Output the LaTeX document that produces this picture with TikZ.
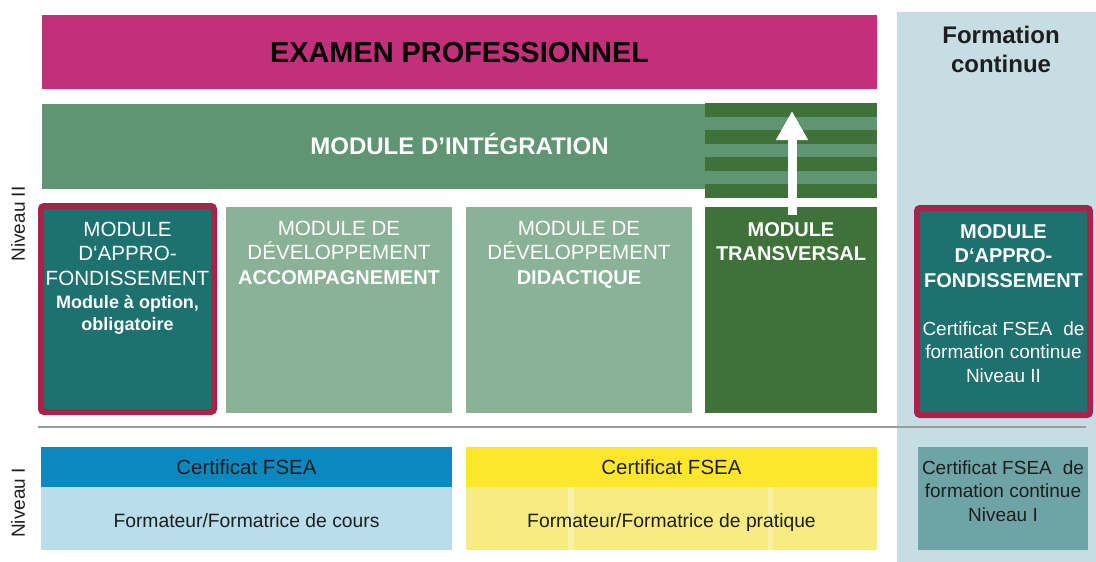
\documentclass[tikz,border=0pt]{standalone}
\usepackage{fontspec}
\setmainfont{Liberation Sans}
\usetikzlibrary{arrows.meta}
\definecolor{exampink}{HTML}{C32F7B}
\definecolor{bandgreen}{HTML}{5F9573}
\definecolor{lightmod}{HTML}{8AB296}
\definecolor{darkgreen}{HTML}{3F7239}
\definecolor{tealbox}{HTML}{1D716F}
\definecolor{crimson}{HTML}{A8234A}
\definecolor{panelblue}{HTML}{C6DDE3}
\definecolor{bluehead}{HTML}{0A88BF}
\definecolor{lightblue}{HTML}{B9DDEB}
\definecolor{yellowhead}{HTML}{FDE72A}
\definecolor{lightyellow}{HTML}{F8EB82}
\definecolor{paleyellow}{HTML}{FAF0A6}
\definecolor{nivbox}{HTML}{6EA4A6}
\definecolor{rulegray}{HTML}{9C9C9C}
\definecolor{darktext}{HTML}{1E1E1E}
\newcommand{\bfline}[1]{{\bfseries\fontsize{20}{24.5}\selectfont #1}}
\begin{document}
\begin{tikzpicture}[x=1pt,y=-1pt,
  box/.style={draw=none,inner sep=0pt,outer sep=0pt,anchor=north west},
  bordered/.style={box,draw=crimson,line width=6pt,rounded corners=3pt,fill=tealbox},
  txt/.style={inner sep=0pt,outer sep=0pt,align=center,text=white},
  dtxt/.style={inner sep=0pt,outer sep=0pt,align=center,text=darktext},
  big/.style={font=\fontsize{20.6}{24.5}\selectfont},
  bigb/.style={font=\bfseries\fontsize{20}{24.5}\selectfont},
  small/.style={font=\fontsize{19}{23.5}\selectfont}]
\useasboundingbox (0,0) rectangle (1096,562);
% right panel
\node[box,fill=panelblue,minimum width=199pt,minimum height=550pt] (fcpanel) at (897,12) {};
\node[dtxt,anchor=north,font=\bfseries\fontsize{24}{29.5}\selectfont] (fctitle) at (1001,43-18) {\rule{0pt}{18pt}Formation\\continue};
% exam banner
\node[box,fill=exampink,minimum width=835pt,minimum height=74pt] (exam) at (42,15) {};
\node[dtxt,anchor=base,font=\bfseries\fontsize{28.9}{32}\selectfont,text=black] (examtxt) at (459.5,62) {EXAMEN PROFESSIONNEL};
% integration band
\node[box,fill=bandgreen,minimum width=663pt,minimum height=85pt] (integ) at (42,104) {};
\node[box,fill=bandgreen,minimum width=172pt,minimum height=95pt] (stripes) at (705,103) {};
\foreach \i in {0,2,4,6}{
  \fill[darkgreen] (705,103+\i*13.5714) rectangle (877,103+\i*13.5714+13.5714);
}
\node[txt,anchor=base,font=\bfseries\fontsize{24}{28}\selectfont] (integtxt) at (459.5,154.5) {MODULE D’INTÉGRATION};
% modules
\node[bordered,minimum width=173pt,minimum height=206pt] (approL) at (41,206) {};
\node[box,fill=lightmod,minimum width=226pt,minimum height=206pt] (devA) at (226,207) {};
\node[box,fill=lightmod,minimum width=226pt,minimum height=206pt] (devD) at (466,207) {};
\node[box,fill=darkgreen,minimum width=172pt,minimum height=206pt] (trans) at (705,207) {};
\node[bordered,minimum width=173pt,minimum height=207pt] (approR) at (917,208) {};
% arrow
\coordinate (arrS) at (792,215);
\coordinate (arrT) at (792,111);
\draw[white,line width=9pt,-{Triangle[width=30pt,length=29pt]}] (arrS) -- (arrT);
% module texts
\node[txt,big,anchor=north] (approLtxt) at (127.5,236-19) {\rule{0pt}{19pt}MODULE\\D‘APPRO-\\FONDISSEMENT};
\node[txt,anchor=north,font=\bfseries\fontsize{18}{22.5}\selectfont] (approLopt) at (127.5,308-17) {\rule{0pt}{17pt}Module à option,\\obligatoire};
\node[txt,big,anchor=north] (devAtxt) at (339,235-19) {\rule{0pt}{19pt}MODULE DE\\DÉVELOPPEMENT\\\bfline{ACCOMPAGNEMENT}};
\node[txt,big,anchor=north] (devDtxt) at (579,235-19) {\rule{0pt}{19pt}MODULE DE\\DÉVELOPPEMENT\\\bfline{DIDACTIQUE}};
\node[txt,bigb,anchor=north] (transtxt) at (791,236-19) {\rule{0pt}{19pt}MODULE\\TRANSVERSAL};
\node[txt,bigb,anchor=north] (approRtxt) at (1003.5,238-19) {\rule{0pt}{19pt}MODULE\\D‘APPRO-\\FONDISSEMENT};
\node[txt,small,anchor=north] (approRcert) at (1003.5,335-17) {\rule{0pt}{17pt}Certificat FSEA\hspace{0.3em} de\\formation continue\\Niveau II};
% separator
\coordinate (lineL) at (38,427);
\coordinate (lineR) at (1086,427);
\draw[rulegray,line width=1.4pt] (lineL) -- (lineR);
% level labels
\node[dtxt,rotate=90,font=\fontsize{19}{22}\selectfont] (niv2) at (18,224) {Niveau II};
\node[dtxt,rotate=90,font=\fontsize{19}{22}\selectfont] (niv1) at (18,503) {Niveau I};
% Niveau I boxes
\node[box,fill=bluehead,minimum width=411pt,minimum height=40pt] (certB) at (41,447) {};
\node[box,fill=lightblue,minimum width=411pt,minimum height=63pt] (formB) at (41,487) {};
\node[box,fill=yellowhead,minimum width=411pt,minimum height=40pt] (certY) at (466,447) {};
\node[box,fill=lightyellow,minimum width=411pt,minimum height=63pt] (formY) at (466,487) {};
\fill[paleyellow] (568,487) rectangle (574,550);
\fill[paleyellow] (768,487) rectangle (773,550);
\node[box,fill=nivbox,minimum width=170pt,minimum height=103pt] (certC) at (918,447) {};
\node[dtxt,anchor=base,font=\fontsize{20.5}{24}\selectfont] (certBtxt) at (246.5,474.5) {Certificat FSEA};
\node[dtxt,anchor=base,font=\fontsize{19.3}{23}\selectfont] (formBtxt) at (246.5,527) {Formateur/Formatrice de cours};
\node[dtxt,anchor=base,font=\fontsize{20.5}{24}\selectfont] (certYtxt) at (671.5,474.5) {Certificat FSEA};
\node[dtxt,anchor=base,font=\fontsize{19.3}{23}\selectfont] (formYtxt) at (671.5,527) {Formateur/Formatrice de pratique};
\node[dtxt,small,anchor=north] (certCtxt) at (1003,474-17) {\rule{0pt}{17pt}Certificat FSEA\hspace{0.3em} de\\formation continue\\Niveau I};
\end{tikzpicture}
\end{document}
